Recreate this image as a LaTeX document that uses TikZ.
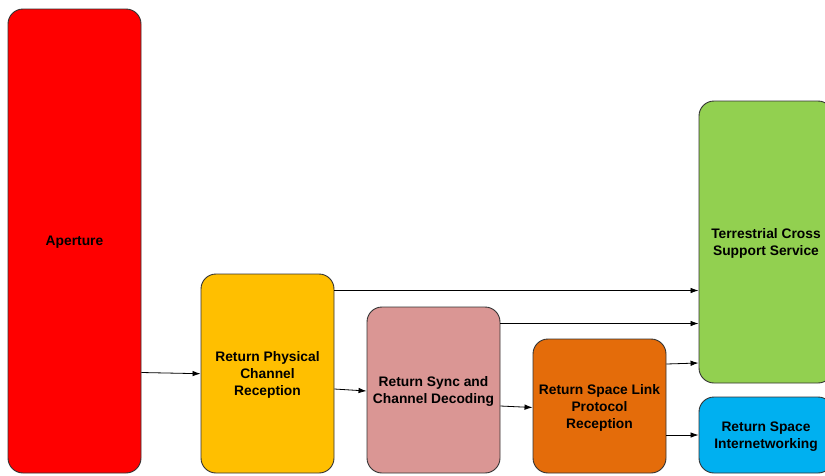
\documentclass[tikz,border=0pt]{standalone}
\usepackage{fontspec}
\setmainfont{Liberation Sans}
\usetikzlibrary{arrows.meta}
\definecolor{cRed}{HTML}{FF0000}
\definecolor{cYellow}{HTML}{FFBF00}
\definecolor{cPink}{HTML}{DA9694}
\definecolor{cOrange}{HTML}{E46C0A}
\definecolor{cGreen}{HTML}{92D050}
\definecolor{cBlue}{HTML}{00B0F0}
\definecolor{cLine}{HTML}{333333}
\begin{document}
\begin{tikzpicture}[x=1pt,y=-1pt,
  block/.style={draw=cLine, line width=0.9pt, rounded corners=15pt,
    minimum width=133pt, inner sep=0pt, align=center,
    font=\fontsize{13.8}{17}\selectfont\bfseries, text=black},
  label/.style={font=\fontsize{13.8}{17}\selectfont\bfseries, align=center,
    inner sep=0pt, yshift=-1.5pt},
  link/.style={draw=black, line width=0.8pt,
    -{Latex[length=8pt,width=5.5pt]}}]
\useasboundingbox (0,0) rectangle (825,475);
% processing chain blocks
\node[block, fill=cRed, minimum height=464pt] (ap) at (74.5,241) {};
\node[block, fill=cYellow, minimum height=199pt] (phy) at (267.5,373.5) {};
\node[block, fill=cPink, minimum height=166pt] (sync) at (433.5,390) {};
\node[block, fill=cOrange, minimum height=134pt] (slp) at (599.5,406) {};
\node[block, fill=cGreen, minimum width=134pt, minimum height=282pt] (tcs) at (766,242) {};
\node[block, fill=cBlue, minimum width=134pt, minimum height=76pt] (rsi) at (766,435) {};
% block captions
\node[label, yshift=0.5pt] (apT) at (ap) {Aperture};
\node[label] (phyT) at (phy) {Return Physical\\Channel\\Reception};
\node[label] (syncT) at (sync) {Return Sync and\\Channel Decoding};
\node[label] (slpT) at (slp) {Return Space Link\\Protocol\\Reception};
\node[label] (tcsT) at (tcs) {Terrestrial Cross\\Support Service};
\node[label] (rsiT) at (rsi) {Return Space\\Internetworking};
% data flows
\draw[link] (ap.east |- 0,372.5) -- (phy.west |- 0,373.7);
\draw[link] (phy.east |- 0,389) -- (sync.west |- 0,391);
\draw[link] (sync.east |- 0,406) -- (slp.west |- 0,407.5);
\draw[link] (phy.east |- 0,290.5) -- (tcs.west |- 0,290.5);
\draw[link] (sync.east |- 0,323.5) -- (tcs.west |- 0,323.5);
\draw[link] (slp.east |- 0,364) -- (tcs.west |- 0,363);
\draw[link] (slp.east |- 0,435) -- (rsi.west |- 0,435);
\end{tikzpicture}
\end{document}
